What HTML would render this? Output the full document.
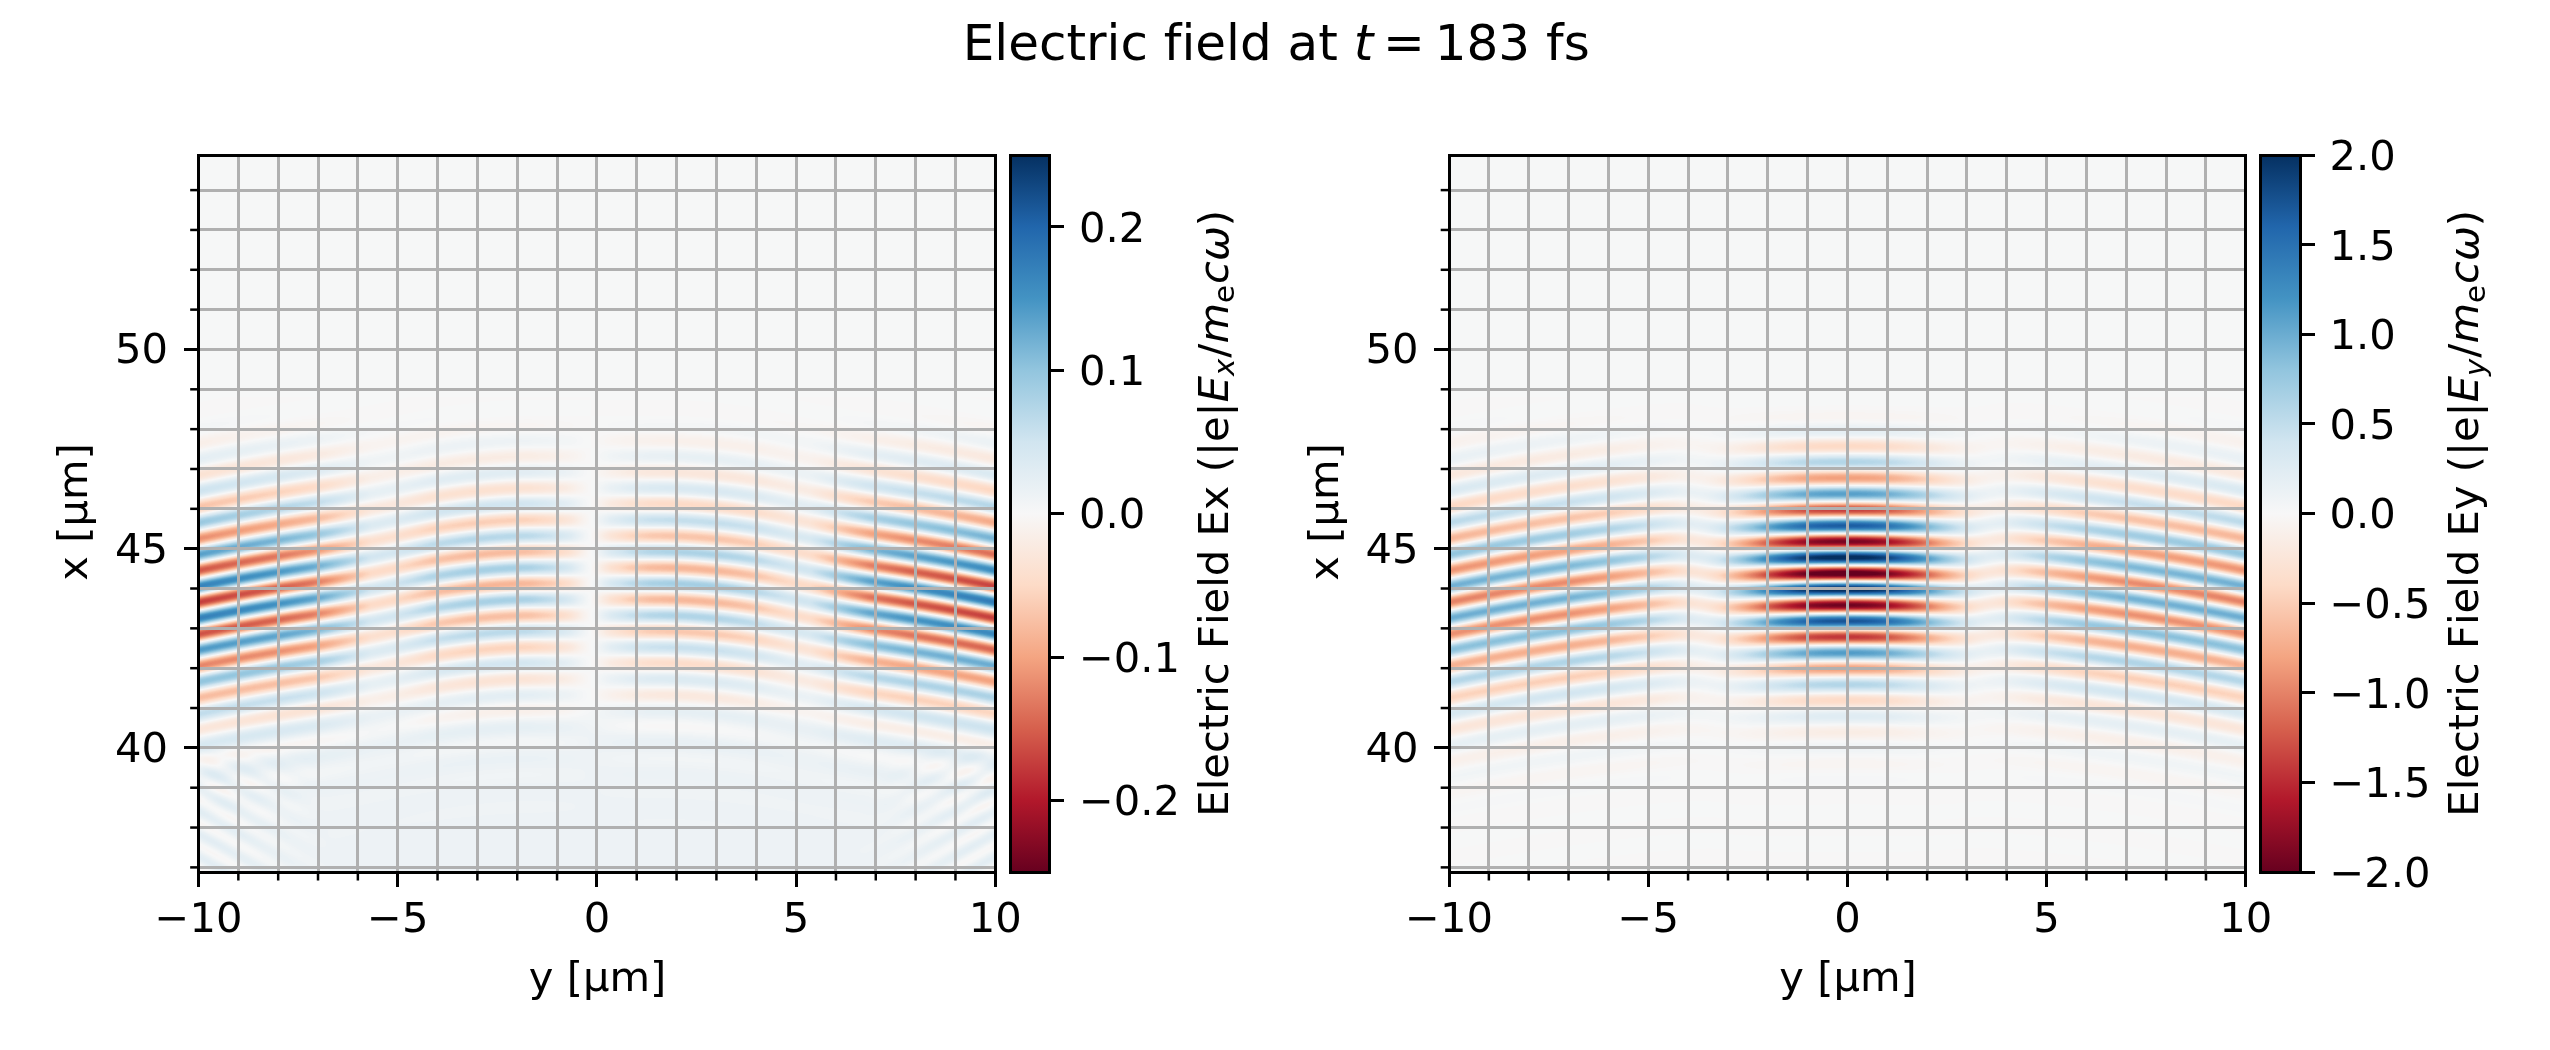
<!DOCTYPE html>
<html><head><meta charset="utf-8"><title>Electric field at t = 183 fs</title>
<style>
html,body{margin:0;padding:0;background:#fff;}
#fig{position:relative;width:2550px;height:1050px;overflow:hidden;background:#fff}
canvas{position:absolute;display:block;background:#f6f7f7}
</style></head><body><div id="fig">
<canvas id="c0" width="798" height="718" style="left:198px;top:155px"></canvas>
<canvas id="c1" width="798" height="718" style="left:1449px;top:155px"></canvas>


<svg width="2550" height="1050" style="position:absolute;left:0;top:0" viewBox="0 0 612 252" version="1.1">
 
 <defs><linearGradient id="cbg" x1="0" y1="0" x2="0" y2="1"><stop offset="0" stop-color="#053061"/><stop offset="0.1" stop-color="#2166ac"/><stop offset="0.2" stop-color="#4393c3"/><stop offset="0.3" stop-color="#92c5de"/><stop offset="0.4" stop-color="#d1e5f0"/><stop offset="0.5" stop-color="#f7f7f7"/><stop offset="0.6" stop-color="#fddbc7"/><stop offset="0.7" stop-color="#f4a582"/><stop offset="0.8" stop-color="#d6604d"/><stop offset="0.9" stop-color="#b2182b"/><stop offset="1" stop-color="#67001f"/></linearGradient>
  <style type="text/css">*{stroke-linejoin: round; stroke-linecap: butt}</style>
 </defs>
 <g id="figure_1">
  <g id="axes_1">
   <g id="patch_1">
    <path d="M 47.64 209.3208 
L 238.872 209.3208 
L 238.872 37.212 
L 47.64 37.212 
L 47.64 209.3208 
z
" style="fill: none"/>
   </g>
   
   <g id="matplotlib.axis_1">
    <g id="xtick_1">
     <g id="line2d_1">
      <path d="M 47.64 209.3208 
L 47.64 37.212 
" clip-path="url(#p89a2056ac7)" style="fill: none; stroke: #b0b0b0; stroke-width: 0.72; stroke-linecap: square" shape-rendering="crispEdges"/>
     </g>
     <g id="line2d_2">
      <defs>
       <path id="m1504cfccaf" d="M 0 0 
L 0 3.5 
" style="stroke: #000000; stroke-width: 0.72" shape-rendering="crispEdges"/>
      </defs>
      <g>
       <use href="#m1504cfccaf" x="47.64" y="209.3208" style="stroke: #000000; stroke-width: 0.72" shape-rendering="crispEdges"/>
      </g>
     </g>
     <g id="text_1" transform="translate(0.0000 -0.1920)">
      <text style="font-size: 10px; font-family: 'DejaVu Sans', 'Bitstream Vera Sans', 'Computer Modern Sans Serif', 'Lucida Grande', 'Verdana', 'Geneva', 'Lucid', 'Arial', 'Helvetica', 'Avant Garde', sans-serif; text-anchor: middle" x="47.64" y="223.919237" transform="rotate(-0 47.64 223.919237)">−10</text>
     </g>
    </g>
    <g id="xtick_2">
     <g id="line2d_3">
      <path d="M 95.448 209.3208 
L 95.448 37.212 
" clip-path="url(#p89a2056ac7)" style="fill: none; stroke: #b0b0b0; stroke-width: 0.72; stroke-linecap: square" shape-rendering="crispEdges"/>
     </g>
     <g id="line2d_4">
      <g>
       <use href="#m1504cfccaf" x="95.448" y="209.3208" style="stroke: #000000; stroke-width: 0.72" shape-rendering="crispEdges"/>
      </g>
     </g>
     <g id="text_2" transform="translate(0.0000 -0.1920)">
      <text style="font-size: 10px; font-family: 'DejaVu Sans', 'Bitstream Vera Sans', 'Computer Modern Sans Serif', 'Lucida Grande', 'Verdana', 'Geneva', 'Lucid', 'Arial', 'Helvetica', 'Avant Garde', sans-serif; text-anchor: middle" x="95.448" y="223.919237" transform="rotate(-0 95.448 223.919237)">−5</text>
     </g>
    </g>
    <g id="xtick_3">
     <g id="line2d_5">
      <path d="M 143.256 209.3208 
L 143.256 37.212 
" clip-path="url(#p89a2056ac7)" style="fill: none; stroke: #b0b0b0; stroke-width: 0.72; stroke-linecap: square" shape-rendering="crispEdges"/>
     </g>
     <g id="line2d_6">
      <g>
       <use href="#m1504cfccaf" x="143.256" y="209.3208" style="stroke: #000000; stroke-width: 0.72" shape-rendering="crispEdges"/>
      </g>
     </g>
     <g id="text_3" transform="translate(0.0000 -0.1920)">
      <text style="font-size: 10px; font-family: 'DejaVu Sans', 'Bitstream Vera Sans', 'Computer Modern Sans Serif', 'Lucida Grande', 'Verdana', 'Geneva', 'Lucid', 'Arial', 'Helvetica', 'Avant Garde', sans-serif; text-anchor: middle" x="143.256" y="223.919237" transform="rotate(-0 143.256 223.919237)">0</text>
     </g>
    </g>
    <g id="xtick_4">
     <g id="line2d_7">
      <path d="M 191.064 209.3208 
L 191.064 37.212 
" clip-path="url(#p89a2056ac7)" style="fill: none; stroke: #b0b0b0; stroke-width: 0.72; stroke-linecap: square" shape-rendering="crispEdges"/>
     </g>
     <g id="line2d_8">
      <g>
       <use href="#m1504cfccaf" x="191.064" y="209.3208" style="stroke: #000000; stroke-width: 0.72" shape-rendering="crispEdges"/>
      </g>
     </g>
     <g id="text_4" transform="translate(0.0000 -0.1920)">
      <text style="font-size: 10px; font-family: 'DejaVu Sans', 'Bitstream Vera Sans', 'Computer Modern Sans Serif', 'Lucida Grande', 'Verdana', 'Geneva', 'Lucid', 'Arial', 'Helvetica', 'Avant Garde', sans-serif; text-anchor: middle" x="191.064" y="223.919237" transform="rotate(-0 191.064 223.919237)">5</text>
     </g>
    </g>
    <g id="xtick_5">
     <g id="line2d_9">
      <path d="M 238.872 209.3208 
L 238.872 37.212 
" clip-path="url(#p89a2056ac7)" style="fill: none; stroke: #b0b0b0; stroke-width: 0.72; stroke-linecap: square" shape-rendering="crispEdges"/>
     </g>
     <g id="line2d_10">
      <g>
       <use href="#m1504cfccaf" x="238.872" y="209.3208" style="stroke: #000000; stroke-width: 0.72" shape-rendering="crispEdges"/>
      </g>
     </g>
     <g id="text_5" transform="translate(0.0000 -0.1920)">
      <text style="font-size: 10px; font-family: 'DejaVu Sans', 'Bitstream Vera Sans', 'Computer Modern Sans Serif', 'Lucida Grande', 'Verdana', 'Geneva', 'Lucid', 'Arial', 'Helvetica', 'Avant Garde', sans-serif; text-anchor: middle" x="238.872" y="223.919237" transform="rotate(-0 238.872 223.919237)">10</text>
     </g>
    </g>
    <g id="xtick_6">
     <g id="line2d_11">
      <path d="M 57.2016 209.3208 
L 57.2016 37.212 
" clip-path="url(#p89a2056ac7)" style="fill: none; stroke: #b0b0b0; stroke-width: 0.72; stroke-linecap: square" shape-rendering="crispEdges"/>
     </g>
     <g id="line2d_12">
      <defs>
       <path id="m05db3bdf9b" d="M 0 0 
L 0 2 
" style="stroke: #000000; stroke-width: 0.6"/>
      </defs>
      <g>
       <use href="#m05db3bdf9b" x="57.2016" y="209.3208" style="stroke: #000000; stroke-width: 0.6"/>
      </g>
     </g>
    </g>
    <g id="xtick_7">
     <g id="line2d_13">
      <path d="M 66.7632 209.3208 
L 66.7632 37.212 
" clip-path="url(#p89a2056ac7)" style="fill: none; stroke: #b0b0b0; stroke-width: 0.72; stroke-linecap: square" shape-rendering="crispEdges"/>
     </g>
     <g id="line2d_14">
      <g>
       <use href="#m05db3bdf9b" x="66.7632" y="209.3208" style="stroke: #000000; stroke-width: 0.6"/>
      </g>
     </g>
    </g>
    <g id="xtick_8">
     <g id="line2d_15">
      <path d="M 76.3248 209.3208 
L 76.3248 37.212 
" clip-path="url(#p89a2056ac7)" style="fill: none; stroke: #b0b0b0; stroke-width: 0.72; stroke-linecap: square" shape-rendering="crispEdges"/>
     </g>
     <g id="line2d_16">
      <g>
       <use href="#m05db3bdf9b" x="76.3248" y="209.3208" style="stroke: #000000; stroke-width: 0.6"/>
      </g>
     </g>
    </g>
    <g id="xtick_9">
     <g id="line2d_17">
      <path d="M 85.8864 209.3208 
L 85.8864 37.212 
" clip-path="url(#p89a2056ac7)" style="fill: none; stroke: #b0b0b0; stroke-width: 0.72; stroke-linecap: square" shape-rendering="crispEdges"/>
     </g>
     <g id="line2d_18">
      <g>
       <use href="#m05db3bdf9b" x="85.8864" y="209.3208" style="stroke: #000000; stroke-width: 0.6"/>
      </g>
     </g>
    </g>
    <g id="xtick_10">
     <g id="line2d_19">
      <path d="M 105.0096 209.3208 
L 105.0096 37.212 
" clip-path="url(#p89a2056ac7)" style="fill: none; stroke: #b0b0b0; stroke-width: 0.72; stroke-linecap: square" shape-rendering="crispEdges"/>
     </g>
     <g id="line2d_20">
      <g>
       <use href="#m05db3bdf9b" x="105.0096" y="209.3208" style="stroke: #000000; stroke-width: 0.6"/>
      </g>
     </g>
    </g>
    <g id="xtick_11">
     <g id="line2d_21">
      <path d="M 114.5712 209.3208 
L 114.5712 37.212 
" clip-path="url(#p89a2056ac7)" style="fill: none; stroke: #b0b0b0; stroke-width: 0.72; stroke-linecap: square" shape-rendering="crispEdges"/>
     </g>
     <g id="line2d_22">
      <g>
       <use href="#m05db3bdf9b" x="114.5712" y="209.3208" style="stroke: #000000; stroke-width: 0.6"/>
      </g>
     </g>
    </g>
    <g id="xtick_12">
     <g id="line2d_23">
      <path d="M 124.1328 209.3208 
L 124.1328 37.212 
" clip-path="url(#p89a2056ac7)" style="fill: none; stroke: #b0b0b0; stroke-width: 0.72; stroke-linecap: square" shape-rendering="crispEdges"/>
     </g>
     <g id="line2d_24">
      <g>
       <use href="#m05db3bdf9b" x="124.1328" y="209.3208" style="stroke: #000000; stroke-width: 0.6"/>
      </g>
     </g>
    </g>
    <g id="xtick_13">
     <g id="line2d_25">
      <path d="M 133.6944 209.3208 
L 133.6944 37.212 
" clip-path="url(#p89a2056ac7)" style="fill: none; stroke: #b0b0b0; stroke-width: 0.72; stroke-linecap: square" shape-rendering="crispEdges"/>
     </g>
     <g id="line2d_26">
      <g>
       <use href="#m05db3bdf9b" x="133.6944" y="209.3208" style="stroke: #000000; stroke-width: 0.6"/>
      </g>
     </g>
    </g>
    <g id="xtick_14">
     <g id="line2d_27">
      <path d="M 152.8176 209.3208 
L 152.8176 37.212 
" clip-path="url(#p89a2056ac7)" style="fill: none; stroke: #b0b0b0; stroke-width: 0.72; stroke-linecap: square" shape-rendering="crispEdges"/>
     </g>
     <g id="line2d_28">
      <g>
       <use href="#m05db3bdf9b" x="152.8176" y="209.3208" style="stroke: #000000; stroke-width: 0.6"/>
      </g>
     </g>
    </g>
    <g id="xtick_15">
     <g id="line2d_29">
      <path d="M 162.3792 209.3208 
L 162.3792 37.212 
" clip-path="url(#p89a2056ac7)" style="fill: none; stroke: #b0b0b0; stroke-width: 0.72; stroke-linecap: square" shape-rendering="crispEdges"/>
     </g>
     <g id="line2d_30">
      <g>
       <use href="#m05db3bdf9b" x="162.3792" y="209.3208" style="stroke: #000000; stroke-width: 0.6"/>
      </g>
     </g>
    </g>
    <g id="xtick_16">
     <g id="line2d_31">
      <path d="M 171.9408 209.3208 
L 171.9408 37.212 
" clip-path="url(#p89a2056ac7)" style="fill: none; stroke: #b0b0b0; stroke-width: 0.72; stroke-linecap: square" shape-rendering="crispEdges"/>
     </g>
     <g id="line2d_32">
      <g>
       <use href="#m05db3bdf9b" x="171.9408" y="209.3208" style="stroke: #000000; stroke-width: 0.6"/>
      </g>
     </g>
    </g>
    <g id="xtick_17">
     <g id="line2d_33">
      <path d="M 181.5024 209.3208 
L 181.5024 37.212 
" clip-path="url(#p89a2056ac7)" style="fill: none; stroke: #b0b0b0; stroke-width: 0.72; stroke-linecap: square" shape-rendering="crispEdges"/>
     </g>
     <g id="line2d_34">
      <g>
       <use href="#m05db3bdf9b" x="181.5024" y="209.3208" style="stroke: #000000; stroke-width: 0.6"/>
      </g>
     </g>
    </g>
    <g id="xtick_18">
     <g id="line2d_35">
      <path d="M 200.6256 209.3208 
L 200.6256 37.212 
" clip-path="url(#p89a2056ac7)" style="fill: none; stroke: #b0b0b0; stroke-width: 0.72; stroke-linecap: square" shape-rendering="crispEdges"/>
     </g>
     <g id="line2d_36">
      <g>
       <use href="#m05db3bdf9b" x="200.6256" y="209.3208" style="stroke: #000000; stroke-width: 0.6"/>
      </g>
     </g>
    </g>
    <g id="xtick_19">
     <g id="line2d_37">
      <path d="M 210.1872 209.3208 
L 210.1872 37.212 
" clip-path="url(#p89a2056ac7)" style="fill: none; stroke: #b0b0b0; stroke-width: 0.72; stroke-linecap: square" shape-rendering="crispEdges"/>
     </g>
     <g id="line2d_38">
      <g>
       <use href="#m05db3bdf9b" x="210.1872" y="209.3208" style="stroke: #000000; stroke-width: 0.6"/>
      </g>
     </g>
    </g>
    <g id="xtick_20">
     <g id="line2d_39">
      <path d="M 219.7488 209.3208 
L 219.7488 37.212 
" clip-path="url(#p89a2056ac7)" style="fill: none; stroke: #b0b0b0; stroke-width: 0.72; stroke-linecap: square" shape-rendering="crispEdges"/>
     </g>
     <g id="line2d_40">
      <g>
       <use href="#m05db3bdf9b" x="219.7488" y="209.3208" style="stroke: #000000; stroke-width: 0.6"/>
      </g>
     </g>
    </g>
    <g id="xtick_21">
     <g id="line2d_41">
      <path d="M 229.3104 209.3208 
L 229.3104 37.212 
" clip-path="url(#p89a2056ac7)" style="fill: none; stroke: #b0b0b0; stroke-width: 0.72; stroke-linecap: square" shape-rendering="crispEdges"/>
     </g>
     <g id="line2d_42">
      <g>
       <use href="#m05db3bdf9b" x="229.3104" y="209.3208" style="stroke: #000000; stroke-width: 0.6"/>
      </g>
     </g>
    </g>
    <g id="text_6" transform="translate(0.1440 0.2640)">
     <text style="font-size: 10px; font-family: 'DejaVu Sans', 'Bitstream Vera Sans', 'Computer Modern Sans Serif', 'Lucida Grande', 'Verdana', 'Geneva', 'Lucid', 'Arial', 'Helvetica', 'Avant Garde', sans-serif; text-anchor: middle" x="143.256" y="237.597362" transform="rotate(-0 143.256 237.597362)">y [µm]</text>
    </g>
   </g>
   <g id="matplotlib.axis_2">
    <g id="ytick_1">
     <g id="line2d_43">
      <path d="M 47.64 179.488608 
L 238.872 179.488608 
" clip-path="url(#p89a2056ac7)" style="fill: none; stroke: #b0b0b0; stroke-width: 0.72; stroke-linecap: square" shape-rendering="crispEdges"/>
     </g>
     <g id="line2d_44">
      <defs>
       <path id="m5d545ce8f8" d="M 0 0 
L -3.5 0 
" style="stroke: #000000; stroke-width: 0.72" shape-rendering="crispEdges"/>
      </defs>
      <g>
       <use href="#m5d545ce8f8" x="47.64" y="179.488608" style="stroke: #000000; stroke-width: 0.72" shape-rendering="crispEdges"/>
      </g>
     </g>
     <g id="text_7" transform="translate(-0.3360 -0.4560)">
      <text style="font-size: 10px; font-family: 'DejaVu Sans', 'Bitstream Vera Sans', 'Computer Modern Sans Serif', 'Lucida Grande', 'Verdana', 'Geneva', 'Lucid', 'Arial', 'Helvetica', 'Avant Garde', sans-serif; text-anchor: end" x="40.64" y="183.287827" transform="rotate(-0 40.64 183.287827)">40</text>
     </g>
    </g>
    <g id="ytick_2">
     <g id="line2d_45">
      <path d="M 47.64 131.680608 
L 238.872 131.680608 
" clip-path="url(#p89a2056ac7)" style="fill: none; stroke: #b0b0b0; stroke-width: 0.72; stroke-linecap: square" shape-rendering="crispEdges"/>
     </g>
     <g id="line2d_46">
      <g>
       <use href="#m5d545ce8f8" x="47.64" y="131.680608" style="stroke: #000000; stroke-width: 0.72" shape-rendering="crispEdges"/>
      </g>
     </g>
     <g id="text_8" transform="translate(-0.3360 -0.4560)">
      <text style="font-size: 10px; font-family: 'DejaVu Sans', 'Bitstream Vera Sans', 'Computer Modern Sans Serif', 'Lucida Grande', 'Verdana', 'Geneva', 'Lucid', 'Arial', 'Helvetica', 'Avant Garde', sans-serif; text-anchor: end" x="40.64" y="135.479827" transform="rotate(-0 40.64 135.479827)">45</text>
     </g>
    </g>
    <g id="ytick_3">
     <g id="line2d_47">
      <path d="M 47.64 83.872608 
L 238.872 83.872608 
" clip-path="url(#p89a2056ac7)" style="fill: none; stroke: #b0b0b0; stroke-width: 0.72; stroke-linecap: square" shape-rendering="crispEdges"/>
     </g>
     <g id="line2d_48">
      <g>
       <use href="#m5d545ce8f8" x="47.64" y="83.872608" style="stroke: #000000; stroke-width: 0.72" shape-rendering="crispEdges"/>
      </g>
     </g>
     <g id="text_9" transform="translate(-0.3360 -0.4560)">
      <text style="font-size: 10px; font-family: 'DejaVu Sans', 'Bitstream Vera Sans', 'Computer Modern Sans Serif', 'Lucida Grande', 'Verdana', 'Geneva', 'Lucid', 'Arial', 'Helvetica', 'Avant Garde', sans-serif; text-anchor: end" x="40.64" y="87.671827" transform="rotate(-0 40.64 87.671827)">50</text>
     </g>
    </g>
    <g id="ytick_4">
     <g id="line2d_49">
      <path d="M 47.64 208.173408 
L 238.872 208.173408 
" clip-path="url(#p89a2056ac7)" style="fill: none; stroke: #b0b0b0; stroke-width: 0.72; stroke-linecap: square" shape-rendering="crispEdges"/>
     </g>
     <g id="line2d_50">
      <defs>
       <path id="mc3d89a154a" d="M 0 0 
L -2 0 
" style="stroke: #000000; stroke-width: 0.6"/>
      </defs>
      <g>
       <use href="#mc3d89a154a" x="47.64" y="208.173408" style="stroke: #000000; stroke-width: 0.6"/>
      </g>
     </g>
    </g>
    <g id="ytick_5">
     <g id="line2d_51">
      <path d="M 47.64 198.611808 
L 238.872 198.611808 
" clip-path="url(#p89a2056ac7)" style="fill: none; stroke: #b0b0b0; stroke-width: 0.72; stroke-linecap: square" shape-rendering="crispEdges"/>
     </g>
     <g id="line2d_52">
      <g>
       <use href="#mc3d89a154a" x="47.64" y="198.611808" style="stroke: #000000; stroke-width: 0.6"/>
      </g>
     </g>
    </g>
    <g id="ytick_6">
     <g id="line2d_53">
      <path d="M 47.64 189.050208 
L 238.872 189.050208 
" clip-path="url(#p89a2056ac7)" style="fill: none; stroke: #b0b0b0; stroke-width: 0.72; stroke-linecap: square" shape-rendering="crispEdges"/>
     </g>
     <g id="line2d_54">
      <g>
       <use href="#mc3d89a154a" x="47.64" y="189.050208" style="stroke: #000000; stroke-width: 0.6"/>
      </g>
     </g>
    </g>
    <g id="ytick_7">
     <g id="line2d_55">
      <path d="M 47.64 169.927008 
L 238.872 169.927008 
" clip-path="url(#p89a2056ac7)" style="fill: none; stroke: #b0b0b0; stroke-width: 0.72; stroke-linecap: square" shape-rendering="crispEdges"/>
     </g>
     <g id="line2d_56">
      <g>
       <use href="#mc3d89a154a" x="47.64" y="169.927008" style="stroke: #000000; stroke-width: 0.6"/>
      </g>
     </g>
    </g>
    <g id="ytick_8">
     <g id="line2d_57">
      <path d="M 47.64 160.365408 
L 238.872 160.365408 
" clip-path="url(#p89a2056ac7)" style="fill: none; stroke: #b0b0b0; stroke-width: 0.72; stroke-linecap: square" shape-rendering="crispEdges"/>
     </g>
     <g id="line2d_58">
      <g>
       <use href="#mc3d89a154a" x="47.64" y="160.365408" style="stroke: #000000; stroke-width: 0.6"/>
      </g>
     </g>
    </g>
    <g id="ytick_9">
     <g id="line2d_59">
      <path d="M 47.64 150.803808 
L 238.872 150.803808 
" clip-path="url(#p89a2056ac7)" style="fill: none; stroke: #b0b0b0; stroke-width: 0.72; stroke-linecap: square" shape-rendering="crispEdges"/>
     </g>
     <g id="line2d_60">
      <g>
       <use href="#mc3d89a154a" x="47.64" y="150.803808" style="stroke: #000000; stroke-width: 0.6"/>
      </g>
     </g>
    </g>
    <g id="ytick_10">
     <g id="line2d_61">
      <path d="M 47.64 141.242208 
L 238.872 141.242208 
" clip-path="url(#p89a2056ac7)" style="fill: none; stroke: #b0b0b0; stroke-width: 0.72; stroke-linecap: square" shape-rendering="crispEdges"/>
     </g>
     <g id="line2d_62">
      <g>
       <use href="#mc3d89a154a" x="47.64" y="141.242208" style="stroke: #000000; stroke-width: 0.6"/>
      </g>
     </g>
    </g>
    <g id="ytick_11">
     <g id="line2d_63">
      <path d="M 47.64 122.119008 
L 238.872 122.119008 
" clip-path="url(#p89a2056ac7)" style="fill: none; stroke: #b0b0b0; stroke-width: 0.72; stroke-linecap: square" shape-rendering="crispEdges"/>
     </g>
     <g id="line2d_64">
      <g>
       <use href="#mc3d89a154a" x="47.64" y="122.119008" style="stroke: #000000; stroke-width: 0.6"/>
      </g>
     </g>
    </g>
    <g id="ytick_12">
     <g id="line2d_65">
      <path d="M 47.64 112.557408 
L 238.872 112.557408 
" clip-path="url(#p89a2056ac7)" style="fill: none; stroke: #b0b0b0; stroke-width: 0.72; stroke-linecap: square" shape-rendering="crispEdges"/>
     </g>
     <g id="line2d_66">
      <g>
       <use href="#mc3d89a154a" x="47.64" y="112.557408" style="stroke: #000000; stroke-width: 0.6"/>
      </g>
     </g>
    </g>
    <g id="ytick_13">
     <g id="line2d_67">
      <path d="M 47.64 102.995808 
L 238.872 102.995808 
" clip-path="url(#p89a2056ac7)" style="fill: none; stroke: #b0b0b0; stroke-width: 0.72; stroke-linecap: square" shape-rendering="crispEdges"/>
     </g>
     <g id="line2d_68">
      <g>
       <use href="#mc3d89a154a" x="47.64" y="102.995808" style="stroke: #000000; stroke-width: 0.6"/>
      </g>
     </g>
    </g>
    <g id="ytick_14">
     <g id="line2d_69">
      <path d="M 47.64 93.434208 
L 238.872 93.434208 
" clip-path="url(#p89a2056ac7)" style="fill: none; stroke: #b0b0b0; stroke-width: 0.72; stroke-linecap: square" shape-rendering="crispEdges"/>
     </g>
     <g id="line2d_70">
      <g>
       <use href="#mc3d89a154a" x="47.64" y="93.434208" style="stroke: #000000; stroke-width: 0.6"/>
      </g>
     </g>
    </g>
    <g id="ytick_15">
     <g id="line2d_71">
      <path d="M 47.64 74.311008 
L 238.872 74.311008 
" clip-path="url(#p89a2056ac7)" style="fill: none; stroke: #b0b0b0; stroke-width: 0.72; stroke-linecap: square" shape-rendering="crispEdges"/>
     </g>
     <g id="line2d_72">
      <g>
       <use href="#mc3d89a154a" x="47.64" y="74.311008" style="stroke: #000000; stroke-width: 0.6"/>
      </g>
     </g>
    </g>
    <g id="ytick_16">
     <g id="line2d_73">
      <path d="M 47.64 64.749408 
L 238.872 64.749408 
" clip-path="url(#p89a2056ac7)" style="fill: none; stroke: #b0b0b0; stroke-width: 0.72; stroke-linecap: square" shape-rendering="crispEdges"/>
     </g>
     <g id="line2d_74">
      <g>
       <use href="#mc3d89a154a" x="47.64" y="64.749408" style="stroke: #000000; stroke-width: 0.6"/>
      </g>
     </g>
    </g>
    <g id="ytick_17">
     <g id="line2d_75">
      <path d="M 47.64 55.187808 
L 238.872 55.187808 
" clip-path="url(#p89a2056ac7)" style="fill: none; stroke: #b0b0b0; stroke-width: 0.72; stroke-linecap: square" shape-rendering="crispEdges"/>
     </g>
     <g id="line2d_76">
      <g>
       <use href="#mc3d89a154a" x="47.64" y="55.187808" style="stroke: #000000; stroke-width: 0.6"/>
      </g>
     </g>
    </g>
    <g id="ytick_18">
     <g id="line2d_77">
      <path d="M 47.64 45.626208 
L 238.872 45.626208 
" clip-path="url(#p89a2056ac7)" style="fill: none; stroke: #b0b0b0; stroke-width: 0.72; stroke-linecap: square" shape-rendering="crispEdges"/>
     </g>
     <g id="line2d_78">
      <g>
       <use href="#mc3d89a154a" x="47.64" y="45.626208" style="stroke: #000000; stroke-width: 0.6"/>
      </g>
     </g>
    </g>
    <g id="text_10" transform="translate(-0.9120 -0.3840)">
     <text style="font-size: 10px; font-family: 'DejaVu Sans', 'Bitstream Vera Sans', 'Computer Modern Sans Serif', 'Lucida Grande', 'Verdana', 'Geneva', 'Lucid', 'Arial', 'Helvetica', 'Avant Garde', sans-serif; text-anchor: middle" x="21.835312" y="123.2664" transform="rotate(-90 21.835312 123.2664)">x [µm]</text>
    </g>
   </g>
   <g id="patch_2">
    <path d="M 47.64 209.3208 
L 47.64 37.212 
" style="fill: none; stroke: #000000; stroke-width: 0.72; stroke-linejoin: miter; stroke-linecap: square" shape-rendering="crispEdges"/>
   </g>
   <g id="patch_3">
    <path d="M 238.872 209.3208 
L 238.872 37.212 
" style="fill: none; stroke: #000000; stroke-width: 0.72; stroke-linejoin: miter; stroke-linecap: square" shape-rendering="crispEdges"/>
   </g>
   <g id="patch_4">
    <path d="M 47.64 209.3208 
L 238.872 209.3208 
" style="fill: none; stroke: #000000; stroke-width: 0.72; stroke-linejoin: miter; stroke-linecap: square" shape-rendering="crispEdges"/>
   </g>
   <g id="patch_5">
    <path d="M 47.64 37.212 
L 238.872 37.212 
" style="fill: none; stroke: #000000; stroke-width: 0.72; stroke-linejoin: miter; stroke-linecap: square" shape-rendering="crispEdges"/>
   </g>
  </g>
  <g id="axes_2">
   <g id="patch_6">
    <path d="M 242.472 209.3208 
L 251.94 209.3208 
L 251.94 37.212 
L 242.472 37.212 
z
" style="fill: #ffffff"/>
   </g>
   <rect x="242.4" y="37.2" width="9.6" height="172.08" fill="url(#cbg)"/>
   <g id="matplotlib.axis_3"/>
   <g id="matplotlib.axis_4">
    <g id="ytick_19">
     <g id="line2d_79">
      <defs>
       <path id="m33c4ce201d" d="M 0 0 
L 3.5 0 
" style="stroke: #000000; stroke-width: 0.72" shape-rendering="crispEdges"/>
      </defs>
      <g>
       <use href="#m33c4ce201d" x="251.94" y="192.10992" style="stroke: #000000; stroke-width: 0.72" shape-rendering="crispEdges"/>
      </g>
     </g>
     <g id="text_11" transform="translate(0.0000 -0.2400)">
      <text style="font-size: 10px; font-family: 'DejaVu Sans', 'Bitstream Vera Sans', 'Computer Modern Sans Serif', 'Lucida Grande', 'Verdana', 'Geneva', 'Lucid', 'Arial', 'Helvetica', 'Avant Garde', sans-serif; text-anchor: start" x="258.94" y="195.909139" transform="rotate(-0 258.94 195.909139)">−0.2</text>
     </g>
    </g>
    <g id="ytick_20">
     <g id="line2d_80">
      <g>
       <use href="#m33c4ce201d" x="251.94" y="157.68816" style="stroke: #000000; stroke-width: 0.72" shape-rendering="crispEdges"/>
      </g>
     </g>
     <g id="text_12" transform="translate(0.0000 -0.2400)">
      <text style="font-size: 10px; font-family: 'DejaVu Sans', 'Bitstream Vera Sans', 'Computer Modern Sans Serif', 'Lucida Grande', 'Verdana', 'Geneva', 'Lucid', 'Arial', 'Helvetica', 'Avant Garde', sans-serif; text-anchor: start" x="258.94" y="161.487379" transform="rotate(-0 258.94 161.487379)">−0.1</text>
     </g>
    </g>
    <g id="ytick_21">
     <g id="line2d_81">
      <g>
       <use href="#m33c4ce201d" x="251.94" y="123.2664" style="stroke: #000000; stroke-width: 0.72" shape-rendering="crispEdges"/>
      </g>
     </g>
     <g id="text_13" transform="translate(0.0000 -0.2400)">
      <text style="font-size: 10px; font-family: 'DejaVu Sans', 'Bitstream Vera Sans', 'Computer Modern Sans Serif', 'Lucida Grande', 'Verdana', 'Geneva', 'Lucid', 'Arial', 'Helvetica', 'Avant Garde', sans-serif; text-anchor: start" x="258.94" y="127.065619" transform="rotate(-0 258.94 127.065619)">0.0</text>
     </g>
    </g>
    <g id="ytick_22">
     <g id="line2d_82">
      <g>
       <use href="#m33c4ce201d" x="251.94" y="88.84464" style="stroke: #000000; stroke-width: 0.72" shape-rendering="crispEdges"/>
      </g>
     </g>
     <g id="text_14" transform="translate(0.0000 -0.2400)">
      <text style="font-size: 10px; font-family: 'DejaVu Sans', 'Bitstream Vera Sans', 'Computer Modern Sans Serif', 'Lucida Grande', 'Verdana', 'Geneva', 'Lucid', 'Arial', 'Helvetica', 'Avant Garde', sans-serif; text-anchor: start" x="258.94" y="92.643859" transform="rotate(-0 258.94 92.643859)">0.1</text>
     </g>
    </g>
    <g id="ytick_23">
     <g id="line2d_83">
      <g>
       <use href="#m33c4ce201d" x="251.94" y="54.42288" style="stroke: #000000; stroke-width: 0.72" shape-rendering="crispEdges"/>
      </g>
     </g>
     <g id="text_15" transform="translate(0.0000 -0.2400)">
      <text style="font-size: 10px; font-family: 'DejaVu Sans', 'Bitstream Vera Sans', 'Computer Modern Sans Serif', 'Lucida Grande', 'Verdana', 'Geneva', 'Lucid', 'Arial', 'Helvetica', 'Avant Garde', sans-serif; text-anchor: start" x="258.94" y="58.222099" transform="rotate(-0 258.94 58.222099)">0.2</text>
     </g>
    </g>
    <g id="text_16" transform="translate(0.0720 -0.1200)">
     
     <g transform="translate(294.922812 196.1164) rotate(-90)">
      <text>
       <tspan x="0" y="-0.359375" style="font-size: 10px; font-family: 'DejaVu Sans'">E</tspan>
       <tspan x="6.318359" y="-0.359375" style="font-size: 10px; font-family: 'DejaVu Sans'">l</tspan>
       <tspan x="9.09668" y="-0.359375" style="font-size: 10px; font-family: 'DejaVu Sans'">e</tspan>
       <tspan x="15.249023" y="-0.359375" style="font-size: 10px; font-family: 'DejaVu Sans'">c</tspan>
       <tspan x="20.74707" y="-0.359375" style="font-size: 10px; font-family: 'DejaVu Sans'">t</tspan>
       <tspan x="24.667969" y="-0.359375" style="font-size: 10px; font-family: 'DejaVu Sans'">r</tspan>
       <tspan x="28.779297" y="-0.359375" style="font-size: 10px; font-family: 'DejaVu Sans'">i</tspan>
       <tspan x="31.557617" y="-0.359375" style="font-size: 10px; font-family: 'DejaVu Sans'">c</tspan>
       <tspan x="37.055664" y="-0.359375" style="font-size: 10px; font-family: 'DejaVu Sans'"> </tspan>
       <tspan x="40.234375" y="-0.359375" style="font-size: 10px; font-family: 'DejaVu Sans'">F</tspan>
       <tspan x="45.986328" y="-0.359375" style="font-size: 10px; font-family: 'DejaVu Sans'">i</tspan>
       <tspan x="48.764648" y="-0.359375" style="font-size: 10px; font-family: 'DejaVu Sans'">e</tspan>
       <tspan x="54.916992" y="-0.359375" style="font-size: 10px; font-family: 'DejaVu Sans'">l</tspan>
       <tspan x="57.695312" y="-0.359375" style="font-size: 10px; font-family: 'DejaVu Sans'">d</tspan>
       <tspan x="64.042969" y="-0.359375" style="font-size: 10px; font-family: 'DejaVu Sans'"> </tspan>
       <tspan x="67.22168" y="-0.359375" style="font-size: 10px; font-family: 'DejaVu Sans'">E</tspan>
       <tspan x="73.540039" y="-0.359375" style="font-size: 10px; font-family: 'DejaVu Sans'">x</tspan>
       <tspan x="79.458008" y="-0.359375" style="font-size: 10px; font-family: 'DejaVu Sans'"> </tspan>
       <tspan x="82.636719" y="-0.359375" style="font-size: 10px; font-family: 'DejaVu Sans'">(</tspan>
       <tspan x="86.538086" y="-0.359375" style="font-size: 10px; font-family: 'DejaVu Sans'">|</tspan>
       <tspan x="89.907227" y="-0.359375" style="font-size: 10px; font-family: 'DejaVu Sans'">e</tspan>
       <tspan x="96.05957" y="-0.359375" style="font-size: 10px; font-family: 'DejaVu Sans'">|</tspan>
       <tspan x="110.163086" y="-0.359375" style="font-size: 10px; font-family: 'DejaVu Sans'">/</tspan>
       <tspan x="141.725586" y="-0.359375" style="font-size: 10px; font-family: 'DejaVu Sans'">)</tspan>
       <tspan x="99.428711" y="-0.359375" style="font-style: oblique; font-size: 10px; font-family: 'DejaVu Sans'">E</tspan>
       <tspan x="113.532227" y="-0.359375" style="font-style: oblique; font-size: 10px; font-family: 'DejaVu Sans'">m</tspan>
       <tspan x="127.853516" y="-0.359375" style="font-style: oblique; font-size: 10px; font-family: 'DejaVu Sans'">c</tspan>
       <tspan x="133.351562" y="-0.359375" style="font-style: oblique; font-size: 10px; font-family: 'DejaVu Sans'">ω</tspan>
       <tspan x="105.74707" y="1.28125" style="font-style: oblique; font-size: 7px; font-family: 'DejaVu Sans'">x</tspan>
       <tspan x="123.273438" y="1.28125" style="font-size: 7px; font-family: 'DejaVu Sans'">e</tspan>
      </text>
     </g>
    </g>
   </g>
   <g id="LineCollection_1"/>
   <g id="patch_7">
    <path d="M 242.472 209.3208 
L 247.206 209.3208 
L 251.94 209.3208 
L 251.94 37.212 
L 247.206 37.212 
L 242.472 37.212 
L 242.472 209.3208 
z
" style="fill: none; stroke: #000000; stroke-width: 0.72; stroke-linejoin: miter; stroke-linecap: square" shape-rendering="crispEdges"/>
   </g>
  </g>
  <g id="axes_3">
   <g id="patch_8">
    <path d="M 347.7648 209.3208 
L 538.9968 209.3208 
L 538.9968 37.212 
L 347.7648 37.212 
L 347.7648 209.3208 
z
" style="fill: none"/>
   </g>
   
   <g id="matplotlib.axis_5">
    <g id="xtick_22">
     <g id="line2d_84">
      <path d="M 347.7648 209.3208 
L 347.7648 37.212 
" clip-path="url(#pd11adcd8a2)" style="fill: none; stroke: #b0b0b0; stroke-width: 0.72; stroke-linecap: square" shape-rendering="crispEdges"/>
     </g>
     <g id="line2d_85">
      <g>
       <use href="#m1504cfccaf" x="347.7648" y="209.3208" style="stroke: #000000; stroke-width: 0.72" shape-rendering="crispEdges"/>
      </g>
     </g>
     <g id="text_17" transform="translate(0.0000 -0.1920)">
      <text style="font-size: 10px; font-family: 'DejaVu Sans', 'Bitstream Vera Sans', 'Computer Modern Sans Serif', 'Lucida Grande', 'Verdana', 'Geneva', 'Lucid', 'Arial', 'Helvetica', 'Avant Garde', sans-serif; text-anchor: middle" x="347.7648" y="223.919237" transform="rotate(-0 347.7648 223.919237)">−10</text>
     </g>
    </g>
    <g id="xtick_23">
     <g id="line2d_86">
      <path d="M 395.5728 209.3208 
L 395.5728 37.212 
" clip-path="url(#pd11adcd8a2)" style="fill: none; stroke: #b0b0b0; stroke-width: 0.72; stroke-linecap: square" shape-rendering="crispEdges"/>
     </g>
     <g id="line2d_87">
      <g>
       <use href="#m1504cfccaf" x="395.5728" y="209.3208" style="stroke: #000000; stroke-width: 0.72" shape-rendering="crispEdges"/>
      </g>
     </g>
     <g id="text_18" transform="translate(0.0000 -0.1920)">
      <text style="font-size: 10px; font-family: 'DejaVu Sans', 'Bitstream Vera Sans', 'Computer Modern Sans Serif', 'Lucida Grande', 'Verdana', 'Geneva', 'Lucid', 'Arial', 'Helvetica', 'Avant Garde', sans-serif; text-anchor: middle" x="395.5728" y="223.919237" transform="rotate(-0 395.5728 223.919237)">−5</text>
     </g>
    </g>
    <g id="xtick_24">
     <g id="line2d_88">
      <path d="M 443.3808 209.3208 
L 443.3808 37.212 
" clip-path="url(#pd11adcd8a2)" style="fill: none; stroke: #b0b0b0; stroke-width: 0.72; stroke-linecap: square" shape-rendering="crispEdges"/>
     </g>
     <g id="line2d_89">
      <g>
       <use href="#m1504cfccaf" x="443.3808" y="209.3208" style="stroke: #000000; stroke-width: 0.72" shape-rendering="crispEdges"/>
      </g>
     </g>
     <g id="text_19" transform="translate(0.0000 -0.1920)">
      <text style="font-size: 10px; font-family: 'DejaVu Sans', 'Bitstream Vera Sans', 'Computer Modern Sans Serif', 'Lucida Grande', 'Verdana', 'Geneva', 'Lucid', 'Arial', 'Helvetica', 'Avant Garde', sans-serif; text-anchor: middle" x="443.3808" y="223.919237" transform="rotate(-0 443.3808 223.919237)">0</text>
     </g>
    </g>
    <g id="xtick_25">
     <g id="line2d_90">
      <path d="M 491.1888 209.3208 
L 491.1888 37.212 
" clip-path="url(#pd11adcd8a2)" style="fill: none; stroke: #b0b0b0; stroke-width: 0.72; stroke-linecap: square" shape-rendering="crispEdges"/>
     </g>
     <g id="line2d_91">
      <g>
       <use href="#m1504cfccaf" x="491.1888" y="209.3208" style="stroke: #000000; stroke-width: 0.72" shape-rendering="crispEdges"/>
      </g>
     </g>
     <g id="text_20" transform="translate(0.0000 -0.1920)">
      <text style="font-size: 10px; font-family: 'DejaVu Sans', 'Bitstream Vera Sans', 'Computer Modern Sans Serif', 'Lucida Grande', 'Verdana', 'Geneva', 'Lucid', 'Arial', 'Helvetica', 'Avant Garde', sans-serif; text-anchor: middle" x="491.1888" y="223.919237" transform="rotate(-0 491.1888 223.919237)">5</text>
     </g>
    </g>
    <g id="xtick_26">
     <g id="line2d_92">
      <path d="M 538.9968 209.3208 
L 538.9968 37.212 
" clip-path="url(#pd11adcd8a2)" style="fill: none; stroke: #b0b0b0; stroke-width: 0.72; stroke-linecap: square" shape-rendering="crispEdges"/>
     </g>
     <g id="line2d_93">
      <g>
       <use href="#m1504cfccaf" x="538.9968" y="209.3208" style="stroke: #000000; stroke-width: 0.72" shape-rendering="crispEdges"/>
      </g>
     </g>
     <g id="text_21" transform="translate(0.0000 -0.1920)">
      <text style="font-size: 10px; font-family: 'DejaVu Sans', 'Bitstream Vera Sans', 'Computer Modern Sans Serif', 'Lucida Grande', 'Verdana', 'Geneva', 'Lucid', 'Arial', 'Helvetica', 'Avant Garde', sans-serif; text-anchor: middle" x="538.9968" y="223.919237" transform="rotate(-0 538.9968 223.919237)">10</text>
     </g>
    </g>
    <g id="xtick_27">
     <g id="line2d_94">
      <path d="M 357.3264 209.3208 
L 357.3264 37.212 
" clip-path="url(#pd11adcd8a2)" style="fill: none; stroke: #b0b0b0; stroke-width: 0.72; stroke-linecap: square" shape-rendering="crispEdges"/>
     </g>
     <g id="line2d_95">
      <g>
       <use href="#m05db3bdf9b" x="357.3264" y="209.3208" style="stroke: #000000; stroke-width: 0.6"/>
      </g>
     </g>
    </g>
    <g id="xtick_28">
     <g id="line2d_96">
      <path d="M 366.888 209.3208 
L 366.888 37.212 
" clip-path="url(#pd11adcd8a2)" style="fill: none; stroke: #b0b0b0; stroke-width: 0.72; stroke-linecap: square" shape-rendering="crispEdges"/>
     </g>
     <g id="line2d_97">
      <g>
       <use href="#m05db3bdf9b" x="366.888" y="209.3208" style="stroke: #000000; stroke-width: 0.6"/>
      </g>
     </g>
    </g>
    <g id="xtick_29">
     <g id="line2d_98">
      <path d="M 376.4496 209.3208 
L 376.4496 37.212 
" clip-path="url(#pd11adcd8a2)" style="fill: none; stroke: #b0b0b0; stroke-width: 0.72; stroke-linecap: square" shape-rendering="crispEdges"/>
     </g>
     <g id="line2d_99">
      <g>
       <use href="#m05db3bdf9b" x="376.4496" y="209.3208" style="stroke: #000000; stroke-width: 0.6"/>
      </g>
     </g>
    </g>
    <g id="xtick_30">
     <g id="line2d_100">
      <path d="M 386.0112 209.3208 
L 386.0112 37.212 
" clip-path="url(#pd11adcd8a2)" style="fill: none; stroke: #b0b0b0; stroke-width: 0.72; stroke-linecap: square" shape-rendering="crispEdges"/>
     </g>
     <g id="line2d_101">
      <g>
       <use href="#m05db3bdf9b" x="386.0112" y="209.3208" style="stroke: #000000; stroke-width: 0.6"/>
      </g>
     </g>
    </g>
    <g id="xtick_31">
     <g id="line2d_102">
      <path d="M 405.1344 209.3208 
L 405.1344 37.212 
" clip-path="url(#pd11adcd8a2)" style="fill: none; stroke: #b0b0b0; stroke-width: 0.72; stroke-linecap: square" shape-rendering="crispEdges"/>
     </g>
     <g id="line2d_103">
      <g>
       <use href="#m05db3bdf9b" x="405.1344" y="209.3208" style="stroke: #000000; stroke-width: 0.6"/>
      </g>
     </g>
    </g>
    <g id="xtick_32">
     <g id="line2d_104">
      <path d="M 414.696 209.3208 
L 414.696 37.212 
" clip-path="url(#pd11adcd8a2)" style="fill: none; stroke: #b0b0b0; stroke-width: 0.72; stroke-linecap: square" shape-rendering="crispEdges"/>
     </g>
     <g id="line2d_105">
      <g>
       <use href="#m05db3bdf9b" x="414.696" y="209.3208" style="stroke: #000000; stroke-width: 0.6"/>
      </g>
     </g>
    </g>
    <g id="xtick_33">
     <g id="line2d_106">
      <path d="M 424.2576 209.3208 
L 424.2576 37.212 
" clip-path="url(#pd11adcd8a2)" style="fill: none; stroke: #b0b0b0; stroke-width: 0.72; stroke-linecap: square" shape-rendering="crispEdges"/>
     </g>
     <g id="line2d_107">
      <g>
       <use href="#m05db3bdf9b" x="424.2576" y="209.3208" style="stroke: #000000; stroke-width: 0.6"/>
      </g>
     </g>
    </g>
    <g id="xtick_34">
     <g id="line2d_108">
      <path d="M 433.8192 209.3208 
L 433.8192 37.212 
" clip-path="url(#pd11adcd8a2)" style="fill: none; stroke: #b0b0b0; stroke-width: 0.72; stroke-linecap: square" shape-rendering="crispEdges"/>
     </g>
     <g id="line2d_109">
      <g>
       <use href="#m05db3bdf9b" x="433.8192" y="209.3208" style="stroke: #000000; stroke-width: 0.6"/>
      </g>
     </g>
    </g>
    <g id="xtick_35">
     <g id="line2d_110">
      <path d="M 452.9424 209.3208 
L 452.9424 37.212 
" clip-path="url(#pd11adcd8a2)" style="fill: none; stroke: #b0b0b0; stroke-width: 0.72; stroke-linecap: square" shape-rendering="crispEdges"/>
     </g>
     <g id="line2d_111">
      <g>
       <use href="#m05db3bdf9b" x="452.9424" y="209.3208" style="stroke: #000000; stroke-width: 0.6"/>
      </g>
     </g>
    </g>
    <g id="xtick_36">
     <g id="line2d_112">
      <path d="M 462.504 209.3208 
L 462.504 37.212 
" clip-path="url(#pd11adcd8a2)" style="fill: none; stroke: #b0b0b0; stroke-width: 0.72; stroke-linecap: square" shape-rendering="crispEdges"/>
     </g>
     <g id="line2d_113">
      <g>
       <use href="#m05db3bdf9b" x="462.504" y="209.3208" style="stroke: #000000; stroke-width: 0.6"/>
      </g>
     </g>
    </g>
    <g id="xtick_37">
     <g id="line2d_114">
      <path d="M 472.0656 209.3208 
L 472.0656 37.212 
" clip-path="url(#pd11adcd8a2)" style="fill: none; stroke: #b0b0b0; stroke-width: 0.72; stroke-linecap: square" shape-rendering="crispEdges"/>
     </g>
     <g id="line2d_115">
      <g>
       <use href="#m05db3bdf9b" x="472.0656" y="209.3208" style="stroke: #000000; stroke-width: 0.6"/>
      </g>
     </g>
    </g>
    <g id="xtick_38">
     <g id="line2d_116">
      <path d="M 481.6272 209.3208 
L 481.6272 37.212 
" clip-path="url(#pd11adcd8a2)" style="fill: none; stroke: #b0b0b0; stroke-width: 0.72; stroke-linecap: square" shape-rendering="crispEdges"/>
     </g>
     <g id="line2d_117">
      <g>
       <use href="#m05db3bdf9b" x="481.6272" y="209.3208" style="stroke: #000000; stroke-width: 0.6"/>
      </g>
     </g>
    </g>
    <g id="xtick_39">
     <g id="line2d_118">
      <path d="M 500.7504 209.3208 
L 500.7504 37.212 
" clip-path="url(#pd11adcd8a2)" style="fill: none; stroke: #b0b0b0; stroke-width: 0.72; stroke-linecap: square" shape-rendering="crispEdges"/>
     </g>
     <g id="line2d_119">
      <g>
       <use href="#m05db3bdf9b" x="500.7504" y="209.3208" style="stroke: #000000; stroke-width: 0.6"/>
      </g>
     </g>
    </g>
    <g id="xtick_40">
     <g id="line2d_120">
      <path d="M 510.312 209.3208 
L 510.312 37.212 
" clip-path="url(#pd11adcd8a2)" style="fill: none; stroke: #b0b0b0; stroke-width: 0.72; stroke-linecap: square" shape-rendering="crispEdges"/>
     </g>
     <g id="line2d_121">
      <g>
       <use href="#m05db3bdf9b" x="510.312" y="209.3208" style="stroke: #000000; stroke-width: 0.6"/>
      </g>
     </g>
    </g>
    <g id="xtick_41">
     <g id="line2d_122">
      <path d="M 519.8736 209.3208 
L 519.8736 37.212 
" clip-path="url(#pd11adcd8a2)" style="fill: none; stroke: #b0b0b0; stroke-width: 0.72; stroke-linecap: square" shape-rendering="crispEdges"/>
     </g>
     <g id="line2d_123">
      <g>
       <use href="#m05db3bdf9b" x="519.8736" y="209.3208" style="stroke: #000000; stroke-width: 0.6"/>
      </g>
     </g>
    </g>
    <g id="xtick_42">
     <g id="line2d_124">
      <path d="M 529.4352 209.3208 
L 529.4352 37.212 
" clip-path="url(#pd11adcd8a2)" style="fill: none; stroke: #b0b0b0; stroke-width: 0.72; stroke-linecap: square" shape-rendering="crispEdges"/>
     </g>
     <g id="line2d_125">
      <g>
       <use href="#m05db3bdf9b" x="529.4352" y="209.3208" style="stroke: #000000; stroke-width: 0.6"/>
      </g>
     </g>
    </g>
    <g id="text_22" transform="translate(0.1440 0.2640)">
     <text style="font-size: 10px; font-family: 'DejaVu Sans', 'Bitstream Vera Sans', 'Computer Modern Sans Serif', 'Lucida Grande', 'Verdana', 'Geneva', 'Lucid', 'Arial', 'Helvetica', 'Avant Garde', sans-serif; text-anchor: middle" x="443.3808" y="237.597362" transform="rotate(-0 443.3808 237.597362)">y [µm]</text>
    </g>
   </g>
   <g id="matplotlib.axis_6">
    <g id="ytick_24">
     <g id="line2d_126">
      <path d="M 347.7648 179.488608 
L 538.9968 179.488608 
" clip-path="url(#pd11adcd8a2)" style="fill: none; stroke: #b0b0b0; stroke-width: 0.72; stroke-linecap: square" shape-rendering="crispEdges"/>
     </g>
     <g id="line2d_127">
      <g>
       <use href="#m5d545ce8f8" x="347.7648" y="179.488608" style="stroke: #000000; stroke-width: 0.72" shape-rendering="crispEdges"/>
      </g>
     </g>
     <g id="text_23" transform="translate(-0.3360 -0.4560)">
      <text style="font-size: 10px; font-family: 'DejaVu Sans', 'Bitstream Vera Sans', 'Computer Modern Sans Serif', 'Lucida Grande', 'Verdana', 'Geneva', 'Lucid', 'Arial', 'Helvetica', 'Avant Garde', sans-serif; text-anchor: end" x="340.7648" y="183.287827" transform="rotate(-0 340.7648 183.287827)">40</text>
     </g>
    </g>
    <g id="ytick_25">
     <g id="line2d_128">
      <path d="M 347.7648 131.680608 
L 538.9968 131.680608 
" clip-path="url(#pd11adcd8a2)" style="fill: none; stroke: #b0b0b0; stroke-width: 0.72; stroke-linecap: square" shape-rendering="crispEdges"/>
     </g>
     <g id="line2d_129">
      <g>
       <use href="#m5d545ce8f8" x="347.7648" y="131.680608" style="stroke: #000000; stroke-width: 0.72" shape-rendering="crispEdges"/>
      </g>
     </g>
     <g id="text_24" transform="translate(-0.3360 -0.4560)">
      <text style="font-size: 10px; font-family: 'DejaVu Sans', 'Bitstream Vera Sans', 'Computer Modern Sans Serif', 'Lucida Grande', 'Verdana', 'Geneva', 'Lucid', 'Arial', 'Helvetica', 'Avant Garde', sans-serif; text-anchor: end" x="340.7648" y="135.479827" transform="rotate(-0 340.7648 135.479827)">45</text>
     </g>
    </g>
    <g id="ytick_26">
     <g id="line2d_130">
      <path d="M 347.7648 83.872608 
L 538.9968 83.872608 
" clip-path="url(#pd11adcd8a2)" style="fill: none; stroke: #b0b0b0; stroke-width: 0.72; stroke-linecap: square" shape-rendering="crispEdges"/>
     </g>
     <g id="line2d_131">
      <g>
       <use href="#m5d545ce8f8" x="347.7648" y="83.872608" style="stroke: #000000; stroke-width: 0.72" shape-rendering="crispEdges"/>
      </g>
     </g>
     <g id="text_25" transform="translate(-0.3360 -0.4560)">
      <text style="font-size: 10px; font-family: 'DejaVu Sans', 'Bitstream Vera Sans', 'Computer Modern Sans Serif', 'Lucida Grande', 'Verdana', 'Geneva', 'Lucid', 'Arial', 'Helvetica', 'Avant Garde', sans-serif; text-anchor: end" x="340.7648" y="87.671827" transform="rotate(-0 340.7648 87.671827)">50</text>
     </g>
    </g>
    <g id="ytick_27">
     <g id="line2d_132">
      <path d="M 347.7648 208.173408 
L 538.9968 208.173408 
" clip-path="url(#pd11adcd8a2)" style="fill: none; stroke: #b0b0b0; stroke-width: 0.72; stroke-linecap: square" shape-rendering="crispEdges"/>
     </g>
     <g id="line2d_133">
      <g>
       <use href="#mc3d89a154a" x="347.7648" y="208.173408" style="stroke: #000000; stroke-width: 0.6"/>
      </g>
     </g>
    </g>
    <g id="ytick_28">
     <g id="line2d_134">
      <path d="M 347.7648 198.611808 
L 538.9968 198.611808 
" clip-path="url(#pd11adcd8a2)" style="fill: none; stroke: #b0b0b0; stroke-width: 0.72; stroke-linecap: square" shape-rendering="crispEdges"/>
     </g>
     <g id="line2d_135">
      <g>
       <use href="#mc3d89a154a" x="347.7648" y="198.611808" style="stroke: #000000; stroke-width: 0.6"/>
      </g>
     </g>
    </g>
    <g id="ytick_29">
     <g id="line2d_136">
      <path d="M 347.7648 189.050208 
L 538.9968 189.050208 
" clip-path="url(#pd11adcd8a2)" style="fill: none; stroke: #b0b0b0; stroke-width: 0.72; stroke-linecap: square" shape-rendering="crispEdges"/>
     </g>
     <g id="line2d_137">
      <g>
       <use href="#mc3d89a154a" x="347.7648" y="189.050208" style="stroke: #000000; stroke-width: 0.6"/>
      </g>
     </g>
    </g>
    <g id="ytick_30">
     <g id="line2d_138">
      <path d="M 347.7648 169.927008 
L 538.9968 169.927008 
" clip-path="url(#pd11adcd8a2)" style="fill: none; stroke: #b0b0b0; stroke-width: 0.72; stroke-linecap: square" shape-rendering="crispEdges"/>
     </g>
     <g id="line2d_139">
      <g>
       <use href="#mc3d89a154a" x="347.7648" y="169.927008" style="stroke: #000000; stroke-width: 0.6"/>
      </g>
     </g>
    </g>
    <g id="ytick_31">
     <g id="line2d_140">
      <path d="M 347.7648 160.365408 
L 538.9968 160.365408 
" clip-path="url(#pd11adcd8a2)" style="fill: none; stroke: #b0b0b0; stroke-width: 0.72; stroke-linecap: square" shape-rendering="crispEdges"/>
     </g>
     <g id="line2d_141">
      <g>
       <use href="#mc3d89a154a" x="347.7648" y="160.365408" style="stroke: #000000; stroke-width: 0.6"/>
      </g>
     </g>
    </g>
    <g id="ytick_32">
     <g id="line2d_142">
      <path d="M 347.7648 150.803808 
L 538.9968 150.803808 
" clip-path="url(#pd11adcd8a2)" style="fill: none; stroke: #b0b0b0; stroke-width: 0.72; stroke-linecap: square" shape-rendering="crispEdges"/>
     </g>
     <g id="line2d_143">
      <g>
       <use href="#mc3d89a154a" x="347.7648" y="150.803808" style="stroke: #000000; stroke-width: 0.6"/>
      </g>
     </g>
    </g>
    <g id="ytick_33">
     <g id="line2d_144">
      <path d="M 347.7648 141.242208 
L 538.9968 141.242208 
" clip-path="url(#pd11adcd8a2)" style="fill: none; stroke: #b0b0b0; stroke-width: 0.72; stroke-linecap: square" shape-rendering="crispEdges"/>
     </g>
     <g id="line2d_145">
      <g>
       <use href="#mc3d89a154a" x="347.7648" y="141.242208" style="stroke: #000000; stroke-width: 0.6"/>
      </g>
     </g>
    </g>
    <g id="ytick_34">
     <g id="line2d_146">
      <path d="M 347.7648 122.119008 
L 538.9968 122.119008 
" clip-path="url(#pd11adcd8a2)" style="fill: none; stroke: #b0b0b0; stroke-width: 0.72; stroke-linecap: square" shape-rendering="crispEdges"/>
     </g>
     <g id="line2d_147">
      <g>
       <use href="#mc3d89a154a" x="347.7648" y="122.119008" style="stroke: #000000; stroke-width: 0.6"/>
      </g>
     </g>
    </g>
    <g id="ytick_35">
     <g id="line2d_148">
      <path d="M 347.7648 112.557408 
L 538.9968 112.557408 
" clip-path="url(#pd11adcd8a2)" style="fill: none; stroke: #b0b0b0; stroke-width: 0.72; stroke-linecap: square" shape-rendering="crispEdges"/>
     </g>
     <g id="line2d_149">
      <g>
       <use href="#mc3d89a154a" x="347.7648" y="112.557408" style="stroke: #000000; stroke-width: 0.6"/>
      </g>
     </g>
    </g>
    <g id="ytick_36">
     <g id="line2d_150">
      <path d="M 347.7648 102.995808 
L 538.9968 102.995808 
" clip-path="url(#pd11adcd8a2)" style="fill: none; stroke: #b0b0b0; stroke-width: 0.72; stroke-linecap: square" shape-rendering="crispEdges"/>
     </g>
     <g id="line2d_151">
      <g>
       <use href="#mc3d89a154a" x="347.7648" y="102.995808" style="stroke: #000000; stroke-width: 0.6"/>
      </g>
     </g>
    </g>
    <g id="ytick_37">
     <g id="line2d_152">
      <path d="M 347.7648 93.434208 
L 538.9968 93.434208 
" clip-path="url(#pd11adcd8a2)" style="fill: none; stroke: #b0b0b0; stroke-width: 0.72; stroke-linecap: square" shape-rendering="crispEdges"/>
     </g>
     <g id="line2d_153">
      <g>
       <use href="#mc3d89a154a" x="347.7648" y="93.434208" style="stroke: #000000; stroke-width: 0.6"/>
      </g>
     </g>
    </g>
    <g id="ytick_38">
     <g id="line2d_154">
      <path d="M 347.7648 74.311008 
L 538.9968 74.311008 
" clip-path="url(#pd11adcd8a2)" style="fill: none; stroke: #b0b0b0; stroke-width: 0.72; stroke-linecap: square" shape-rendering="crispEdges"/>
     </g>
     <g id="line2d_155">
      <g>
       <use href="#mc3d89a154a" x="347.7648" y="74.311008" style="stroke: #000000; stroke-width: 0.6"/>
      </g>
     </g>
    </g>
    <g id="ytick_39">
     <g id="line2d_156">
      <path d="M 347.7648 64.749408 
L 538.9968 64.749408 
" clip-path="url(#pd11adcd8a2)" style="fill: none; stroke: #b0b0b0; stroke-width: 0.72; stroke-linecap: square" shape-rendering="crispEdges"/>
     </g>
     <g id="line2d_157">
      <g>
       <use href="#mc3d89a154a" x="347.7648" y="64.749408" style="stroke: #000000; stroke-width: 0.6"/>
      </g>
     </g>
    </g>
    <g id="ytick_40">
     <g id="line2d_158">
      <path d="M 347.7648 55.187808 
L 538.9968 55.187808 
" clip-path="url(#pd11adcd8a2)" style="fill: none; stroke: #b0b0b0; stroke-width: 0.72; stroke-linecap: square" shape-rendering="crispEdges"/>
     </g>
     <g id="line2d_159">
      <g>
       <use href="#mc3d89a154a" x="347.7648" y="55.187808" style="stroke: #000000; stroke-width: 0.6"/>
      </g>
     </g>
    </g>
    <g id="ytick_41">
     <g id="line2d_160">
      <path d="M 347.7648 45.626208 
L 538.9968 45.626208 
" clip-path="url(#pd11adcd8a2)" style="fill: none; stroke: #b0b0b0; stroke-width: 0.72; stroke-linecap: square" shape-rendering="crispEdges"/>
     </g>
     <g id="line2d_161">
      <g>
       <use href="#mc3d89a154a" x="347.7648" y="45.626208" style="stroke: #000000; stroke-width: 0.6"/>
      </g>
     </g>
    </g>
    <g id="text_26" transform="translate(-0.9120 -0.3840)">
     <text style="font-size: 10px; font-family: 'DejaVu Sans', 'Bitstream Vera Sans', 'Computer Modern Sans Serif', 'Lucida Grande', 'Verdana', 'Geneva', 'Lucid', 'Arial', 'Helvetica', 'Avant Garde', sans-serif; text-anchor: middle" x="321.960112" y="123.2664" transform="rotate(-90 321.960112 123.2664)">x [µm]</text>
    </g>
   </g>
   <g id="patch_9">
    <path d="M 347.7648 209.3208 
L 347.7648 37.212 
" style="fill: none; stroke: #000000; stroke-width: 0.72; stroke-linejoin: miter; stroke-linecap: square" shape-rendering="crispEdges"/>
   </g>
   <g id="patch_10">
    <path d="M 538.9968 209.3208 
L 538.9968 37.212 
" style="fill: none; stroke: #000000; stroke-width: 0.72; stroke-linejoin: miter; stroke-linecap: square" shape-rendering="crispEdges"/>
   </g>
   <g id="patch_11">
    <path d="M 347.7648 209.3208 
L 538.9968 209.3208 
" style="fill: none; stroke: #000000; stroke-width: 0.72; stroke-linejoin: miter; stroke-linecap: square" shape-rendering="crispEdges"/>
   </g>
   <g id="patch_12">
    <path d="M 347.7648 37.212 
L 538.9968 37.212 
" style="fill: none; stroke: #000000; stroke-width: 0.72; stroke-linejoin: miter; stroke-linecap: square" shape-rendering="crispEdges"/>
   </g>
  </g>
  <g id="axes_4">
   <g id="patch_13">
    <path d="M 542.5968 209.3208 
L 552.0648 209.3208 
L 552.0648 37.212 
L 542.5968 37.212 
z
" style="fill: #ffffff"/>
   </g>
   <rect x="542.64" y="37.2" width="9.36" height="172.08" fill="url(#cbg)"/>
   <g id="matplotlib.axis_7"/>
   <g id="matplotlib.axis_8">
    <g id="ytick_42">
     <g id="line2d_162">
      <g>
       <use href="#m33c4ce201d" x="552.0648" y="209.3208" style="stroke: #000000; stroke-width: 0.72" shape-rendering="crispEdges"/>
      </g>
     </g>
     <g id="text_27" transform="translate(0.0000 -0.2400)">
      <text style="font-size: 10px; font-family: 'DejaVu Sans', 'Bitstream Vera Sans', 'Computer Modern Sans Serif', 'Lucida Grande', 'Verdana', 'Geneva', 'Lucid', 'Arial', 'Helvetica', 'Avant Garde', sans-serif; text-anchor: start" x="559.0648" y="213.120019" transform="rotate(-0 559.0648 213.120019)">−2.0</text>
     </g>
    </g>
    <g id="ytick_43">
     <g id="line2d_163">
      <g>
       <use href="#m33c4ce201d" x="552.0648" y="187.8072" style="stroke: #000000; stroke-width: 0.72" shape-rendering="crispEdges"/>
      </g>
     </g>
     <g id="text_28" transform="translate(0.0000 -0.2400)">
      <text style="font-size: 10px; font-family: 'DejaVu Sans', 'Bitstream Vera Sans', 'Computer Modern Sans Serif', 'Lucida Grande', 'Verdana', 'Geneva', 'Lucid', 'Arial', 'Helvetica', 'Avant Garde', sans-serif; text-anchor: start" x="559.0648" y="191.606419" transform="rotate(-0 559.0648 191.606419)">−1.5</text>
     </g>
    </g>
    <g id="ytick_44">
     <g id="line2d_164">
      <g>
       <use href="#m33c4ce201d" x="552.0648" y="166.2936" style="stroke: #000000; stroke-width: 0.72" shape-rendering="crispEdges"/>
      </g>
     </g>
     <g id="text_29" transform="translate(0.0000 -0.2400)">
      <text style="font-size: 10px; font-family: 'DejaVu Sans', 'Bitstream Vera Sans', 'Computer Modern Sans Serif', 'Lucida Grande', 'Verdana', 'Geneva', 'Lucid', 'Arial', 'Helvetica', 'Avant Garde', sans-serif; text-anchor: start" x="559.0648" y="170.092819" transform="rotate(-0 559.0648 170.092819)">−1.0</text>
     </g>
    </g>
    <g id="ytick_45">
     <g id="line2d_165">
      <g>
       <use href="#m33c4ce201d" x="552.0648" y="144.78" style="stroke: #000000; stroke-width: 0.72" shape-rendering="crispEdges"/>
      </g>
     </g>
     <g id="text_30" transform="translate(0.0000 -0.2400)">
      <text style="font-size: 10px; font-family: 'DejaVu Sans', 'Bitstream Vera Sans', 'Computer Modern Sans Serif', 'Lucida Grande', 'Verdana', 'Geneva', 'Lucid', 'Arial', 'Helvetica', 'Avant Garde', sans-serif; text-anchor: start" x="559.0648" y="148.579219" transform="rotate(-0 559.0648 148.579219)">−0.5</text>
     </g>
    </g>
    <g id="ytick_46">
     <g id="line2d_166">
      <g>
       <use href="#m33c4ce201d" x="552.0648" y="123.2664" style="stroke: #000000; stroke-width: 0.72" shape-rendering="crispEdges"/>
      </g>
     </g>
     <g id="text_31" transform="translate(0.0000 -0.2400)">
      <text style="font-size: 10px; font-family: 'DejaVu Sans', 'Bitstream Vera Sans', 'Computer Modern Sans Serif', 'Lucida Grande', 'Verdana', 'Geneva', 'Lucid', 'Arial', 'Helvetica', 'Avant Garde', sans-serif; text-anchor: start" x="559.0648" y="127.065619" transform="rotate(-0 559.0648 127.065619)">0.0</text>
     </g>
    </g>
    <g id="ytick_47">
     <g id="line2d_167">
      <g>
       <use href="#m33c4ce201d" x="552.0648" y="101.7528" style="stroke: #000000; stroke-width: 0.72" shape-rendering="crispEdges"/>
      </g>
     </g>
     <g id="text_32" transform="translate(0.0000 -0.2400)">
      <text style="font-size: 10px; font-family: 'DejaVu Sans', 'Bitstream Vera Sans', 'Computer Modern Sans Serif', 'Lucida Grande', 'Verdana', 'Geneva', 'Lucid', 'Arial', 'Helvetica', 'Avant Garde', sans-serif; text-anchor: start" x="559.0648" y="105.552019" transform="rotate(-0 559.0648 105.552019)">0.5</text>
     </g>
    </g>
    <g id="ytick_48">
     <g id="line2d_168">
      <g>
       <use href="#m33c4ce201d" x="552.0648" y="80.2392" style="stroke: #000000; stroke-width: 0.72" shape-rendering="crispEdges"/>
      </g>
     </g>
     <g id="text_33" transform="translate(0.0000 -0.2400)">
      <text style="font-size: 10px; font-family: 'DejaVu Sans', 'Bitstream Vera Sans', 'Computer Modern Sans Serif', 'Lucida Grande', 'Verdana', 'Geneva', 'Lucid', 'Arial', 'Helvetica', 'Avant Garde', sans-serif; text-anchor: start" x="559.0648" y="84.038419" transform="rotate(-0 559.0648 84.038419)">1.0</text>
     </g>
    </g>
    <g id="ytick_49">
     <g id="line2d_169">
      <g>
       <use href="#m33c4ce201d" x="552.0648" y="58.7256" style="stroke: #000000; stroke-width: 0.72" shape-rendering="crispEdges"/>
      </g>
     </g>
     <g id="text_34" transform="translate(0.0000 -0.2400)">
      <text style="font-size: 10px; font-family: 'DejaVu Sans', 'Bitstream Vera Sans', 'Computer Modern Sans Serif', 'Lucida Grande', 'Verdana', 'Geneva', 'Lucid', 'Arial', 'Helvetica', 'Avant Garde', sans-serif; text-anchor: start" x="559.0648" y="62.524819" transform="rotate(-0 559.0648 62.524819)">1.5</text>
     </g>
    </g>
    <g id="ytick_50">
     <g id="line2d_170">
      <g>
       <use href="#m33c4ce201d" x="552.0648" y="37.212" style="stroke: #000000; stroke-width: 0.72" shape-rendering="crispEdges"/>
      </g>
     </g>
     <g id="text_35" transform="translate(0.0000 -0.2400)">
      <text style="font-size: 10px; font-family: 'DejaVu Sans', 'Bitstream Vera Sans', 'Computer Modern Sans Serif', 'Lucida Grande', 'Verdana', 'Geneva', 'Lucid', 'Arial', 'Helvetica', 'Avant Garde', sans-serif; text-anchor: start" x="559.0648" y="41.011219" transform="rotate(-0 559.0648 41.011219)">2.0</text>
     </g>
    </g>
    <g id="text_36" transform="translate(0.0720 -0.1200)">
     
     <g transform="translate(595.047613 196.1164) rotate(-90)">
      <text>
       <tspan x="0" y="-0.359375" style="font-size: 10px; font-family: 'DejaVu Sans'">E</tspan>
       <tspan x="6.318359" y="-0.359375" style="font-size: 10px; font-family: 'DejaVu Sans'">l</tspan>
       <tspan x="9.09668" y="-0.359375" style="font-size: 10px; font-family: 'DejaVu Sans'">e</tspan>
       <tspan x="15.249023" y="-0.359375" style="font-size: 10px; font-family: 'DejaVu Sans'">c</tspan>
       <tspan x="20.74707" y="-0.359375" style="font-size: 10px; font-family: 'DejaVu Sans'">t</tspan>
       <tspan x="24.667969" y="-0.359375" style="font-size: 10px; font-family: 'DejaVu Sans'">r</tspan>
       <tspan x="28.779297" y="-0.359375" style="font-size: 10px; font-family: 'DejaVu Sans'">i</tspan>
       <tspan x="31.557617" y="-0.359375" style="font-size: 10px; font-family: 'DejaVu Sans'">c</tspan>
       <tspan x="37.055664" y="-0.359375" style="font-size: 10px; font-family: 'DejaVu Sans'"> </tspan>
       <tspan x="40.234375" y="-0.359375" style="font-size: 10px; font-family: 'DejaVu Sans'">F</tspan>
       <tspan x="45.986328" y="-0.359375" style="font-size: 10px; font-family: 'DejaVu Sans'">i</tspan>
       <tspan x="48.764648" y="-0.359375" style="font-size: 10px; font-family: 'DejaVu Sans'">e</tspan>
       <tspan x="54.916992" y="-0.359375" style="font-size: 10px; font-family: 'DejaVu Sans'">l</tspan>
       <tspan x="57.695312" y="-0.359375" style="font-size: 10px; font-family: 'DejaVu Sans'">d</tspan>
       <tspan x="64.042969" y="-0.359375" style="font-size: 10px; font-family: 'DejaVu Sans'"> </tspan>
       <tspan x="67.22168" y="-0.359375" style="font-size: 10px; font-family: 'DejaVu Sans'">E</tspan>
       <tspan x="73.540039" y="-0.359375" style="font-size: 10px; font-family: 'DejaVu Sans'">y</tspan>
       <tspan x="79.458008" y="-0.359375" style="font-size: 10px; font-family: 'DejaVu Sans'"> </tspan>
       <tspan x="82.636719" y="-0.359375" style="font-size: 10px; font-family: 'DejaVu Sans'">(</tspan>
       <tspan x="86.538086" y="-0.359375" style="font-size: 10px; font-family: 'DejaVu Sans'">|</tspan>
       <tspan x="89.907227" y="-0.359375" style="font-size: 10px; font-family: 'DejaVu Sans'">e</tspan>
       <tspan x="96.05957" y="-0.359375" style="font-size: 10px; font-family: 'DejaVu Sans'">|</tspan>
       <tspan x="110.163086" y="-0.359375" style="font-size: 10px; font-family: 'DejaVu Sans'">/</tspan>
       <tspan x="141.725586" y="-0.359375" style="font-size: 10px; font-family: 'DejaVu Sans'">)</tspan>
       <tspan x="99.428711" y="-0.359375" style="font-style: oblique; font-size: 10px; font-family: 'DejaVu Sans'">E</tspan>
       <tspan x="113.532227" y="-0.359375" style="font-style: oblique; font-size: 10px; font-family: 'DejaVu Sans'">m</tspan>
       <tspan x="127.853516" y="-0.359375" style="font-style: oblique; font-size: 10px; font-family: 'DejaVu Sans'">c</tspan>
       <tspan x="133.351562" y="-0.359375" style="font-style: oblique; font-size: 10px; font-family: 'DejaVu Sans'">ω</tspan>
       <tspan x="105.74707" y="1.28125" style="font-style: oblique; font-size: 7px; font-family: 'DejaVu Sans'">y</tspan>
       <tspan x="123.273438" y="1.28125" style="font-size: 7px; font-family: 'DejaVu Sans'">e</tspan>
      </text>
     </g>
    </g>
   </g>
   <g id="LineCollection_2"/>
   <g id="patch_14">
    <path d="M 542.5968 209.3208 
L 547.3308 209.3208 
L 552.0648 209.3208 
L 552.0648 37.212 
L 547.3308 37.212 
L 542.5968 37.212 
L 542.5968 209.3208 
z
" style="fill: none; stroke: #000000; stroke-width: 0.72; stroke-linejoin: miter; stroke-linecap: square" shape-rendering="crispEdges"/>
   </g>
  </g>
  <g id="text_37" transform="translate(0.3408 1.1880)">
   
   <g transform="translate(230.7 14.158125)">
    <text>
     <tspan x="0" y="-0.875" style="font-size: 12px; font-family: 'DejaVu Sans'">E</tspan>
     <tspan x="7.582031" y="-0.875" style="font-size: 12px; font-family: 'DejaVu Sans'">l</tspan>
     <tspan x="10.916016" y="-0.875" style="font-size: 12px; font-family: 'DejaVu Sans'">e</tspan>
     <tspan x="18.298828" y="-0.875" style="font-size: 12px; font-family: 'DejaVu Sans'">c</tspan>
     <tspan x="24.896484" y="-0.875" style="font-size: 12px; font-family: 'DejaVu Sans'">t</tspan>
     <tspan x="29.601562" y="-0.875" style="font-size: 12px; font-family: 'DejaVu Sans'">r</tspan>
     <tspan x="34.535156" y="-0.875" style="font-size: 12px; font-family: 'DejaVu Sans'">i</tspan>
     <tspan x="37.869141" y="-0.875" style="font-size: 12px; font-family: 'DejaVu Sans'">c</tspan>
     <tspan x="44.466797" y="-0.875" style="font-size: 12px; font-family: 'DejaVu Sans'"> </tspan>
     <tspan x="48.28125" y="-0.875" style="font-size: 12px; font-family: 'DejaVu Sans'">f</tspan>
     <tspan x="52.505859" y="-0.875" style="font-size: 12px; font-family: 'DejaVu Sans'">i</tspan>
     <tspan x="55.839844" y="-0.875" style="font-size: 12px; font-family: 'DejaVu Sans'">e</tspan>
     <tspan x="63.222656" y="-0.875" style="font-size: 12px; font-family: 'DejaVu Sans'">l</tspan>
     <tspan x="66.556641" y="-0.875" style="font-size: 12px; font-family: 'DejaVu Sans'">d</tspan>
     <tspan x="74.173828" y="-0.875" style="font-size: 12px; font-family: 'DejaVu Sans'"> </tspan>
     <tspan x="77.988281" y="-0.875" style="font-size: 12px; font-family: 'DejaVu Sans'">a</tspan>
     <tspan x="85.341797" y="-0.875" style="font-size: 12px; font-family: 'DejaVu Sans'">t</tspan>
     <tspan x="90.046875" y="-0.875" style="font-size: 12px; font-family: 'DejaVu Sans'"> </tspan>
     <tspan x="100.904297" y="-0.875" style="font-size: 12px; font-family: 'DejaVu Sans'">=</tspan>
     <tspan x="113.296875" y="-0.875" style="font-size: 12px; font-family: 'DejaVu Sans'">1</tspan>
     <tspan x="120.931641" y="-0.875" style="font-size: 12px; font-family: 'DejaVu Sans'">8</tspan>
     <tspan x="128.566406" y="-0.875" style="font-size: 12px; font-family: 'DejaVu Sans'">3</tspan>
     <tspan x="136.201172" y="-0.875" style="font-size: 12px; font-family: 'DejaVu Sans'"> </tspan>
     <tspan x="140.015625" y="-0.875" style="font-size: 12px; font-family: 'DejaVu Sans'">f</tspan>
     <tspan x="144.240234" y="-0.875" style="font-size: 12px; font-family: 'DejaVu Sans'">s</tspan>
     <tspan x="93.861328" y="-0.875" style="font-style: oblique; font-size: 12px; font-family: 'DejaVu Sans'">t</tspan>
    </text>
   </g>
  </g>
 </g>
 <defs>
  <clipPath id="p89a2056ac7">
   <rect x="47.64" y="37.212" width="191.232" height="172.1088"/>
  </clipPath>
  <clipPath id="pd11adcd8a2">
   <rect x="347.7648" y="37.212" width="191.232" height="172.1088"/>
  </clipPath>
 </defs>
</svg>

</div>
<script>
(function(){
var LUT="67001f6a011f6d02207003207304217605217906227c07227f0823810823840924870a248a0b258d0c25900d26930e26960f279910279c11279f1228a21328a51429a81529ab162aae172ab1182bb3192cb41c2db61f2eb72230b82531ba2832bb2a34bd2d35be3036bf3338c13639c2383ac43b3cc53e3dc6413ec84440c94741cb4942cc4c44ce4f45cf5246d05548d25849d35a4ad55d4cd6604dd7634fd86551da6853db6b55dc6e57dd7059de735cdf765ee17860e27b62e37e64e48066e58368e6866ae8896ce98b6eea8e70eb9172ec9374ee9677ef9979f09c7bf19e7df2a17ff3a481f4a683f5a886f5aa89f5ac8bf6af8ef6b191f6b394f7b596f7b799f7b99cf8bb9ef8bda1f8bfa4f9c2a7f9c4a9f9c6acfac8affacab1fbccb4fbceb7fbd0b9fcd3bcfcd5bffcd7c2fdd9c4fddbc7fddcc9fdddcbfcdecdfcdfcffce0d0fce2d2fbe3d4fbe4d6fbe5d8fbe6dafae7dcfae8defae9dffaeae1f9ebe3f9ede5f9eee7f9efe9f9f0ebf8f1edf8f2eff8f3f0f8f4f2f7f5f4f7f6f6f6f7f7f5f6f7f3f5f6f2f5f6f0f4f6eff3f5edf2f5ecf2f5eaf1f5e9f0f4e7f0f4e6eff4e4eef4e3edf3e1edf3e0ecf3deebf2ddebf2dbeaf2dae9f2d8e9f1d7e8f1d5e7f1d4e6f1d2e6f0d1e5f0cfe4efcce2efcae1eec7e0edc5dfecc2ddecc0dcebbddbeabbdaeab8d8e9b6d7e8b3d6e8b1d5e7aed3e6acd2e5a9d1e5a7d0e4a5cee3a2cde3a0cce29dcbe19bc9e098c8e096c7df93c6de90c4dd8dc2dc8ac0db87beda84bcd981bad87eb8d77bb6d678b4d575b2d471b0d36eaed26bacd168abd065a9cf62a7ce5fa5cd5ca3cb59a1ca569fc9529dc84f9bc74c99c64997c54695c44393c34291c2408fc13f8ec03e8cbf3c8abe3b88be3a87bd3885bc3783bb3681ba3480b9337eb8327cb7307ab62f79b52e77b52c75b42b73b32a71b22870b1276eb0266caf246aae2369ad2267ac2065ab1f63a81e61a51d5fa21c5c9f1b5a9c1a589919569618549317529015508d144e8a134c8712498411478110457e0f437b0e41790d3f760c3d730a3b7009386d08366a073467063264053061";
var lr=new Uint8Array(256),lg=new Uint8Array(256),lb=new Uint8Array(256);
for(var i=0;i<256;i++){lr[i]=parseInt(LUT.substr(i*6,2),16);lg[i]=parseInt(LUT.substr(i*6+2,2),16);lb[i]=parseInt(LUT.substr(i*6+4,2),16);}
var TAU=2*Math.PI, K=TAU/0.803;
function sm(a,b,t){t=(t-a)/(b-a);if(t<0)t=0;if(t>1)t=1;return t*t*(3-2*t);}
function interp(tab,v){ // tab: [[x,val],...] sorted
  if(v<=tab[0][0])return tab[0][1];
  for(var i=1;i<tab.length;i++){if(v<=tab[i][0]){var a=tab[i-1],b=tab[i];var t=(v-a[0])/(b[0]-a[0]);return a[1]+(b[1]-a[1])*t;}}
  return tab[tab.length-1][1];
}
// arc envelope
function arcEnv(x,y){
  var c=44.2 - y*y/166;
  var d=x-c; var s=d>0?1.85:1.85; d/=s;
  return Math.exp(-0.5*d*d);
}
var SLOPE=[[0,0],[1.5,0.0],[2.5,0.07],[4,0.16],[6,0.18],[10,0.18]];
var XF=new Float64Array(1101);(function(){var acc=0;XF[0]=0;for(var i=1;i<1101;i++){var y=(i-0.5)/100;acc+=interp(SLOPE,y)/100;XF[i]=acc;}})();
function xf(y){y=Math.abs(y)*100;var i=Math.floor(y);if(i>=1100)return XF[1100];var t=y-i;return XF[i]*(1-t)+XF[i+1]*t;}
var PHI=0.033+K*(1.615-xf(9.5));
function arcPhase(x,y){
  return K*(x + xf(y))+PHI;
}
var SLOPEY=[[0,0],[1.5,0],[2.5,0.05],[4,0.08],[6,0.12],[8,0.16],[10,0.2]];
var XFY=new Float64Array(1101);(function(){var acc=0;XFY[0]=0;for(var i=1;i<1101;i++){var y=(i-0.5)/100;acc+=interp(SLOPEY,y)/100;XFY[i]=acc;}})();
function xfy(y){y=Math.abs(y)*100;var i=Math.floor(y);if(i>=1100)return XFY[1100];var t=y-i;return XFY[i]*(1-t)+XFY[i+1]*t;}
var PHIY=0.033+K*(1.615-xfy(9.5));
function arcPhaseY(x,y){
  return K*(x + xfy(y))+PHIY;
}
var AEY=[[0,0.2],[3,0.22],[4,0.38],[4.6,0.55],[5.2,0.7],[6,0.85],[7,0.95],[10,1.0]];
var AEX=[[0,0],[0.15,0.01],[0.5,0.04],[1,0.065],[1.5,0.08],[2,0.085],[3,0.085],[4,0.075],[4.5,0.06],[5,0.05],[5.5,0.05],[6,0.08],[6.5,0.11],[7,0.135],[8,0.155],[9,0.165],[10,0.175]];
function ey(x,y){
  var dx=(x-44.3); dx/= dx>0?1.8:1.7; var ty=Math.pow(Math.abs(y+0.1)/2.7,2.5);
  var v=2.2*Math.exp(-0.5*dx*dx)*Math.exp(-ty)*Math.cos(K*(x+0.01*y*y-44.77));
  v+=interp(AEY,Math.abs(y))*arcEnv(x,y)*Math.cos(arcPhaseY(x,y));
  return v*sm(48.8,47.5,x);
}
function ex(x,y){
  var yy=y+0.15, s=yy<0?1:-1;
  var p0=arcPhase(x,y), p1=arcPhaseY(x,y), w=sm(4,7.5,Math.abs(y));
  var v=s*interp(AEX,Math.abs(yy))*arcEnv(x,y)*Math.cos(p0+w*(p1-p0))*sm(48.8,47.5,x);
  v+=0.012*sm(41.3,40.3,x);
  var K2=TAU/0.5, wl=sm(-6.5,-9.8,y)*sm(40.3,39.0,x), wr=sm(6.5,9.8,y)*sm(40.3,39.0,x);
  if(wl>0)v+=0.014*wl*Math.cos(K2*(0.88*x+0.48*y));
  if(wr>0)v+=0.014*wr*Math.cos(K2*(0.88*x-0.48*y));
  return v;
}
function draw(id,f,vmax,L,R,T,B,xmin,xmax){
  var c=document.getElementById(id);
  var w=c.width,h=c.height,ox=parseFloat(c.style.left),oy=parseFloat(c.style.top);
  var ctx=c.getContext('2d');var img=ctx.createImageData(w,h);var d=img.data;
  var sx=20/(R-L), sy=(xmax-xmin)/(B-T);
  var SS=2;
  for(var j=0;j<h;j++){
    for(var i=0;i<w;i++){
      var acc=0;
      for(var a=0;a<SS;a++){
        var X=xmax-(oy+j+(a+0.5)/SS-T)*sy;
        for(var b=0;b<SS;b++){
          var Y=-10+(ox+i+(b+0.5)/SS-L)*sx;
          acc+=f(X,Y);
        }
      }
      var v=acc/(SS*SS);
      var t=(v/vmax+1)/2; var k=Math.floor(t*256); if(k<0)k=0; if(k>255)k=255;
      var p=(j*w+i)*4; d[p]=lr[k];d[p+1]=lg[k];d[p+2]=lb[k];d[p+3]=255;
    }
  }
  ctx.putImageData(img,0,0);
}
draw('c0',ex,0.25,198.5,995.3,155.05,872.17,36.88,54.88);
draw('c1',ey,2.0,1449.02,2245.82,155.05,872.17,36.88,54.88);
})();

</script>
</body></html>
